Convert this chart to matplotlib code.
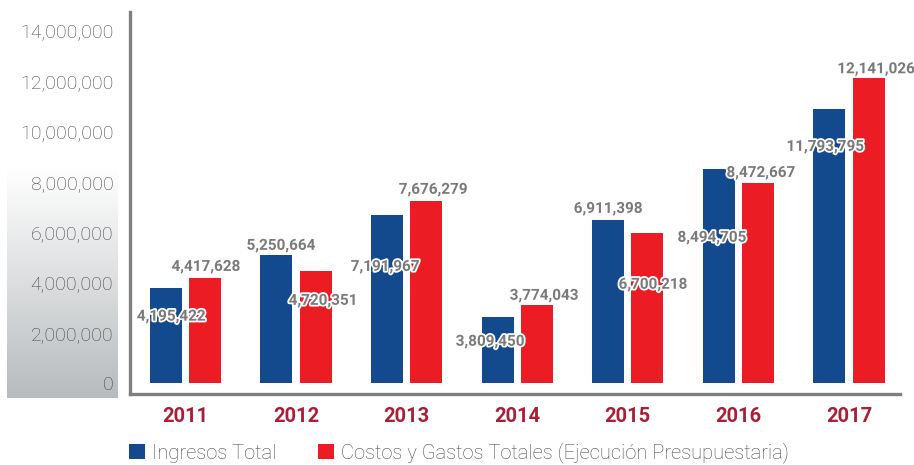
import matplotlib
matplotlib.use("Agg")
import matplotlib.pyplot as plt
import numpy as np
from matplotlib import patheffects as pe
from matplotlib.transforms import ScaledTranslation
from matplotlib.patches import Patch

# ---------------- data ----------------
years = ["2011", "2012", "2013", "2014", "2015", "2016", "2017"]
series_names = ["Ingresos Total",
                "Costos y Gastos Totales (Ejecución Presupuestaria)"]
# bar heights as drawn in the picture
ingresos = [3.81e6, 5.09e6, 6.68e6, 2.64e6, 6.50e6, 8.54e6, 10.93e6]
costos = [4.19e6, 4.47e6, 7.24e6, 3.11e6, 5.97e6, 7.98e6, 12.16e6]
# value labels printed on the chart
ingresos_labels = [4195422, 5250664, 7191967, 3809450, 6911398, 8494705, 11793795]
costos_labels = [4417628, 4720351, 7676279, 3774043, 6700218, 8472667, 12141026]
yticks = [0, 2e6, 4e6, 6e6, 8e6, 10e6, 12e6, 14e6]

# ---------------- layout ----------------
BLUE = "#134a8e"
RED = "#ec1c24"
YEAR_RED = "#a91f35"
LABEL_GRAY = "#7a7a7a"
AXIS_GRAY = "#7f7f7f"

# label anchors: (x offset from group centre, y in data units)
ing_lab_dx = [-0.13, -0.137, -0.196, -0.246, -0.179, -0.239, -0.216]
ing_lab_y = [2.65e6, 5.47e6, 4.63e6, 1.65e6, 6.94e6, 5.79e6, 9.41e6]
cos_lab_dx = [0.185, 0.243, 0.239, 0.242, 0.228, 0.204, 0.245]
cos_lab_y = [4.63e6, 3.28e6, 7.70e6, 3.48e6, 3.92e6, 8.37e6, 12.50e6]

W, H = 914, 465
fig = plt.figure(figsize=(W / 100, H / 100), dpi=100)
fig.patch.set_facecolor("white")

# gradient panel behind y tick labels
gax = fig.add_axes([7 / W, 1 - 398 / H, 111 / W, (398 - 168) / H], zorder=0)
grad = np.linspace(0, 1, 256).reshape(-1, 1)
top = np.array([1.0, 1.0, 1.0])
bot = np.array([0.72, 0.735, 0.745])
img = top[None, None, :] * (1 - grad[..., None]) + bot[None, None, :] * grad[..., None]
gax.imshow(img, aspect="auto", extent=[0, 1, 0, 1], origin="upper")
gax.axis("off")

ax = fig.add_axes([130 / W, 1 - 394 / H, 770 / W, 382 / H], zorder=1)
x = np.arange(len(years))
bw = 0.289
off = 0.178
ax.bar(x - off, ingresos, bw, color=BLUE, label=series_names[0], zorder=2)
ax.bar(x + off, costos, bw, color=RED, label=series_names[1], zorder=2)

ax.set_xlim(-0.502, 6.462)
ax.set_ylim(-0.43e6, 14.78e6)

for s in ["top", "right"]:
    ax.spines[s].set_visible(False)
for s in ["left", "bottom"]:
    ax.spines[s].set_color(AXIS_GRAY)
    ax.spines[s].set_linewidth(2.4)

ax.set_yticks(yticks)
ax.set_yticklabels([f"{int(v):,}" for v in yticks], family="Roboto",
                   fontweight="light", fontsize=14, color="#454545")
shift = ScaledTranslation(0, -5.5 / 100, fig.dpi_scale_trans)
for lab in ax.get_yticklabels():
    lab.set_transform(lab.get_transform() + shift)
ax.tick_params(axis="y", length=0, pad=12)

ax.set_xticks(x)
ax.set_xticklabels(years, family="Roboto", fontweight="bold", fontsize=14.5,
                   color=YEAR_RED)
ax.tick_params(axis="x", length=0, pad=9.5)

stroke = [pe.withStroke(linewidth=2.5, foreground="white")]
for i in range(len(years)):
    ax.text(x[i] + ing_lab_dx[i], ing_lab_y[i], f"{ingresos_labels[i]:,}",
            ha="center", va="center", family="Roboto", fontweight="bold",
            fontsize=11, color=LABEL_GRAY, path_effects=stroke, zorder=5)
    ax.text(x[i] + cos_lab_dx[i], cos_lab_y[i], f"{costos_labels[i]:,}",
            ha="center", va="center", family="Roboto", fontweight="bold",
            fontsize=11, color=LABEL_GRAY, path_effects=stroke, zorder=5)

handles = [Patch(facecolor=BLUE), Patch(facecolor=RED)]
fig.legend(handles, series_names, loc="center left",
           bbox_to_anchor=(129 / W, 1 - 453 / H), ncol=2, frameon=False,
           prop={"family": "Roboto", "weight": "light", "size": 14.5},
           labelcolor="#4a4a4a",
           handlelength=0.8, handleheight=0.8, handletextpad=0.35,
           columnspacing=2.05, borderaxespad=0, borderpad=0)

fig.savefig("out.png", dpi=100, facecolor="white")
